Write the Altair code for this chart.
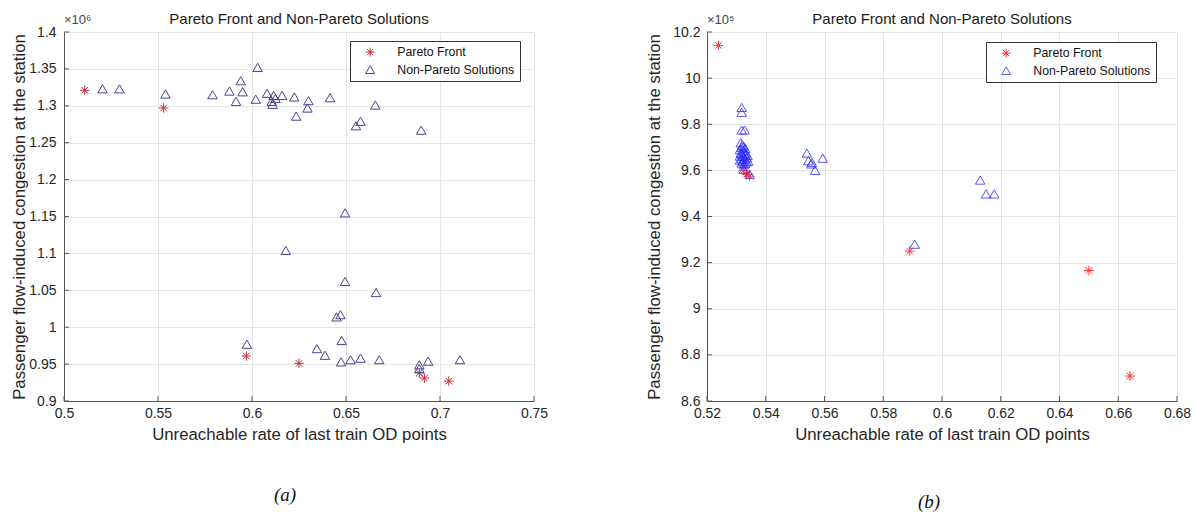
import altair as alt
import pandas as pd

# ---------------- Panel (a) ----------------
a_front_x = [0.511, 0.553, 0.597, 0.625, 0.689, 0.6917, 0.7047]
a_front_y = [1.321, 1.297, 0.961, 0.951, 0.938, 0.931, 0.927]
a_non_x = [0.5205, 0.5295, 0.554, 0.579, 0.588, 0.594, 0.595, 0.5915, 0.603, 0.602,
           0.608, 0.6115, 0.6125, 0.611, 0.6105, 0.616, 0.6225, 0.630, 0.6295, 0.6235,
           0.6415, 0.6656, 0.6577, 0.6553, 0.690,
           0.6495, 0.618, 0.6495, 0.666, 0.647, 0.645, 0.5973, 0.6477, 0.6345, 0.6388,
           0.6474, 0.6524, 0.6577, 0.6677, 0.689, 0.6937, 0.7106, 0.689]
a_non_y = [1.323, 1.323, 1.316, 1.315, 1.320, 1.334, 1.319, 1.306, 1.352, 1.309,
           1.317, 1.314, 1.310, 1.302, 1.306, 1.314, 1.312, 1.307, 1.297, 1.286,
           1.311, 1.301, 1.279, 1.273, 1.267,
           1.155, 1.104, 1.062, 1.047, 1.017, 1.014, 0.977, 0.982, 0.971, 0.962,
           0.953, 0.956, 0.958, 0.956, 0.949, 0.954, 0.956, 0.944]
a_xticks = [0.5, 0.55, 0.6, 0.65, 0.7, 0.75]
a_yticks = [0.9, 0.95, 1.0, 1.05, 1.1, 1.15, 1.2, 1.25, 1.3, 1.35, 1.4]

# ---------------- Panel (b) ----------------
b_front_x = [0.5239, 0.5325, 0.5335, 0.5345, 0.589, 0.650, 0.664]
b_front_y = [10.142, 9.600, 9.583, 9.575, 9.250, 9.166, 8.708]
b_non_x = [0.5318, 0.5318, 0.5318, 0.5328, 0.554, 0.5545, 0.5557, 0.5568, 0.5594, 0.5555,
           0.5907, 0.613, 0.615, 0.6178, 0.5325, 0.5345,
           0.5315, 0.532, 0.5325, 0.5318, 0.533, 0.5312, 0.5322, 0.5328, 0.5315, 0.5332,
           0.532, 0.5312, 0.5325, 0.5335, 0.5318, 0.5328, 0.5312, 0.5322, 0.5335, 0.5318,
           0.533, 0.5325, 0.534, 0.5338]
b_non_y = [9.873, 9.852, 9.775, 9.775, 9.675, 9.642, 9.635, 9.600, 9.653, 9.628,
           9.280, 9.558, 9.498, 9.498, 9.605, 9.583,
           9.720, 9.710, 9.705, 9.700, 9.695, 9.690, 9.685, 9.680, 9.675, 9.672,
           9.668, 9.662, 9.660, 9.655, 9.650, 9.648, 9.645, 9.640, 9.637, 9.632,
           9.630, 9.625, 9.640, 9.665]
b_xticks = [0.52, 0.54, 0.56, 0.58, 0.6, 0.62, 0.64, 0.66, 0.68]
b_yticks = [8.6, 8.8, 9.0, 9.2, 9.4, 9.6, 9.8, 10.0, 10.2]

SERIES = ["Pareto Front", "Non-Pareto Solutions"]
ASTERISK = "M0,-1L0,1M-1,0L1,0M-0.7,-0.7L0.7,0.7M-0.7,0.7L0.7,-0.7"
FONT = "Liberation Sans"
W, H = 470, 369


def panel(fx, fy, nx, ny, xticks, yticks, colors, opacity, exp_label, tag,
          y_extent, y_label_pad, y_title_pad, legend_x, legend_y, tag_x, tag_y):
    df = pd.DataFrame({
        "x": fx + nx,
        "y": fy + ny,
        "series": [SERIES[0]] * len(fx) + [SERIES[1]] * len(nx),
    })
    xs = alt.Scale(domain=[xticks[0], xticks[-1]], nice=False, zero=False)
    ys = alt.Scale(domain=[yticks[0], yticks[-1]], nice=False, zero=False)
    x_axis = alt.Axis(values=xticks, format="~g", labelFlush=False,
                      title="Unreachable rate of last train OD points",
                      labelPadding=5, titlePadding=6)
    y_axis = alt.Axis(values=yticks, format="~g", labelFlush=False,
                      title="Passenger flow-induced congestion at the station",
                      labelPadding=y_label_pad, titlePadding=y_title_pad,
                      minExtent=y_extent, maxExtent=y_extent)
    x_enc = alt.X("x:Q", scale=xs, axis=x_axis)
    y_enc = alt.Y("y:Q", scale=ys, axis=y_axis)
    leg = alt.Legend(title=None, orient="none", legendX=legend_x, legendY=legend_y,
                     strokeColor="#333333", fillColor="white", padding=5,
                     symbolOffset=9, labelOffset=21, rowPadding=4.5,
                     labelFont=FONT, labelFontSize=12.3, labelColor="#111111",
                     symbolSize=80, symbolStrokeWidth=1, symbolFillColor="transparent")
    pts = alt.Chart(df).mark_point(filled=False, strokeWidth=1, size=90,
                                   opacity=opacity).encode(
        x=x_enc, y=y_enc,
        color=alt.Color("series:N", scale=alt.Scale(domain=SERIES, range=colors),
                        legend=leg),
        shape=alt.Shape("series:N",
                        scale=alt.Scale(domain=SERIES, range=[ASTERISK, "triangle-up"]),
                        legend=leg),
    )
    tx = alt.Chart(pd.DataFrame({"x": xticks})).mark_rule(
        color="#555555", strokeWidth=1).encode(
        x=x_enc, y=alt.value(H), y2=alt.value(H - 5))
    ty = alt.Chart(pd.DataFrame({"y": yticks})).mark_rule(
        color="#555555", strokeWidth=1).encode(
        y=y_enc, x=alt.value(0), x2=alt.value(5))
    expo = alt.Chart(pd.DataFrame({"t": [exp_label]})).mark_text(
        align="left", baseline="middle", font=FONT, fontSize=13, color="#444444").encode(
        text="t:N", x=alt.value(0), y=alt.value(-12))
    lab = alt.Chart(pd.DataFrame({"t": [tag]})).mark_text(
        align="center", baseline="middle", font="Liberation Serif", fontSize=19,
        fontStyle="italic", color="#111111").encode(
        text="t:N", x=alt.value(tag_x), y=alt.value(tag_y))
    return alt.layer(tx, ty, pts, expo, lab).properties(
        width=W, height=H,
        title=alt.TitleParams("Pareto Front and Non-Pareto Solutions", fontSize=15,
                              fontWeight="normal", font=FONT, color="#1a1a1a", offset=-13),
    ).resolve_scale(color="independent", shape="independent")


left = panel(a_front_x, a_front_y, a_non_x, a_non_y, a_xticks, a_yticks,
             ["#b8343f", "#45458f"], 1.0, "×10⁶", "(a)",
             36, 8, 0, 286, 9, 221, 463)
right = panel(b_front_x, b_front_y, b_non_x, b_non_y, b_xticks, b_yticks,
              ["#ff0000", "#2a2aff"], 0.8, "×10⁵", "(b)",
              40, 7, 4, 279, 10, 222, 470)

chart = alt.hconcat(left, right, spacing=98).resolve_scale(
    color="independent", shape="independent", x="independent", y="independent"
).resolve_legend(color="independent", shape="independent").properties(
    padding={"left": 11, "top": 12, "right": 0, "bottom": 0},
    background="white",
).configure_view(stroke=None).configure_axis(
    labelFont=FONT, labelFontSize=14, labelColor="#262626",
    titleFont=FONT, titleFontSize=16.8, titleFontWeight="normal", titleColor="#262626",
    domainColor="#555555", gridColor="#e4e4e4", ticks=False,
)

chart.save("out.html", embed_options={"renderer": "svg", "actions": False})
